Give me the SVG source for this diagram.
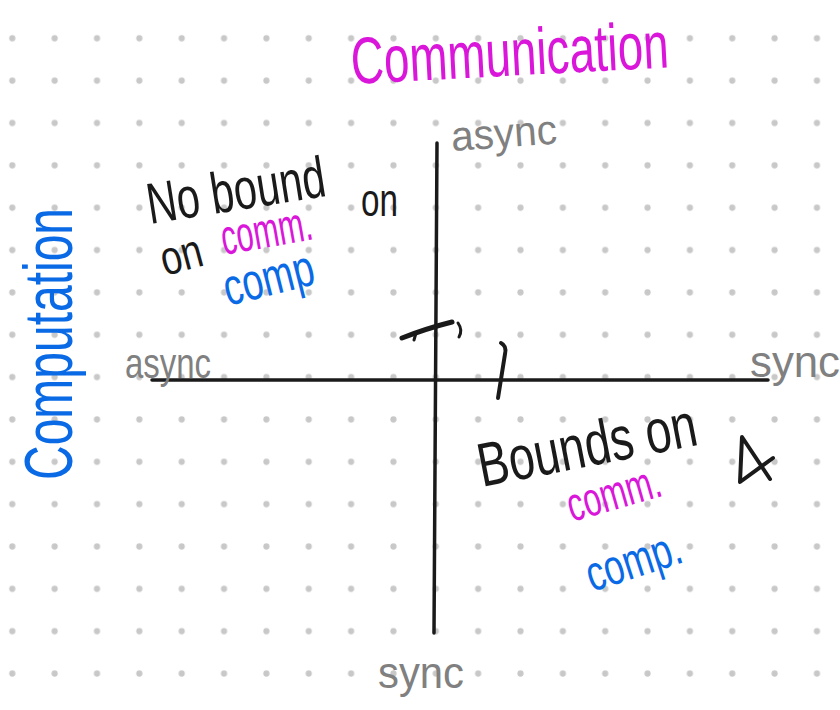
<svg xmlns="http://www.w3.org/2000/svg" width="840" height="710" viewBox="0 0 840 710">
  <defs>
    <pattern id="dots" patternUnits="userSpaceOnUse" x="-8.875" y="17.125" width="42.35" height="42.35">
      <circle cx="21.175" cy="21.175" r="3.1" fill="#c8c8c8"/>
    </pattern>
    <style>
      text { font-family: "Liberation Sans", "DejaVu Sans", sans-serif; }
      .mag { fill: #d916d9; }
      .blue { fill: #0a6ae6; }
      .gray { fill: #808080; }
      .blk { fill: #1a1a1a; }
      .axis { stroke: #1a1a1a; stroke-width: 3.5; fill: none; stroke-linecap: round; }
      .mark { stroke: #1a1a1a; fill: none; stroke-linecap: round; stroke-linejoin: round; }
    </style>
  </defs>
  <rect width="840" height="710" fill="#ffffff"/>
  <rect width="840" height="710" fill="url(#dots)"/>

  <g id="connectors">
    <line class="axis" x1="152" y1="380" x2="768" y2="380"/>
    <line class="axis" x1="437" y1="143" x2="434" y2="633"/>
  </g>

  <g id="title-communication">
    <text class="mag" x="352" y="84" font-size="66" textLength="318" lengthAdjust="spacingAndGlyphs" transform="rotate(-3 352 84)">Communication</text>
  </g>
  <g id="title-computation">
    <text class="blue" transform="translate(72 480) rotate(-90)" x="0" y="0" font-size="68" textLength="272" lengthAdjust="spacingAndGlyphs">Computation</text>
  </g>

  <g id="label-async-top">
    <text class="gray" x="452" y="151" font-size="42" textLength="106" lengthAdjust="spacingAndGlyphs" transform="rotate(-4 452 151)">async</text>
  </g>
  <g id="label-async-left">
    <text class="gray" x="125" y="378" font-size="42" textLength="86" lengthAdjust="spacingAndGlyphs">async</text>
  </g>
  <g id="label-sync-right">
    <text class="gray" x="750" y="377" font-size="44" textLength="90" lengthAdjust="spacingAndGlyphs">sync</text>
  </g>
  <g id="label-sync-bottom">
    <text class="gray" x="378" y="688" font-size="44" textLength="86" lengthAdjust="spacingAndGlyphs">sync</text>
  </g>

  <g id="note-no-bound">
    <text class="blk" x="150" y="224" font-size="58" textLength="180" lengthAdjust="spacingAndGlyphs" transform="rotate(-9 150 224)">No bound</text>
    <text class="blk" x="361" y="216" font-size="46" textLength="37" lengthAdjust="spacingAndGlyphs">on</text>
    <text class="blk" x="165" y="276" font-size="48" textLength="42" lengthAdjust="spacingAndGlyphs" transform="rotate(-15 165 276)">on</text>
    <text class="mag" x="224" y="255" font-size="50" textLength="92" lengthAdjust="spacingAndGlyphs" transform="rotate(-10 224 255)">comm.</text>
    <text class="blue" x="228" y="306" font-size="52" textLength="92" lengthAdjust="spacingAndGlyphs" transform="rotate(-14 228 306)">comp</text>
  </g>

  <g id="note-bounds">
    <text class="blk" x="482" y="487" font-size="62" textLength="222" lengthAdjust="spacingAndGlyphs" transform="rotate(-11 482 487)">Bounds on</text>
    <text class="mag" x="572" y="522" font-size="48" textLength="96" lengthAdjust="spacingAndGlyphs" transform="rotate(-16 572 522)">comm.</text>
    <text class="blue" x="592" y="592" font-size="50" textLength="98" lengthAdjust="spacingAndGlyphs" transform="rotate(-18 592 592)">comp.</text>
  </g>

  <g id="marks">
    <path class="mark" stroke-width="5" d="M402,338 C420,331 440,325 452,322"/>
    <path class="mark" stroke-width="3" d="M416,333 L414,340"/>
    <path class="mark" stroke-width="3" d="M458,323 Q463,330 459,337"/>
    <path class="mark" stroke-width="4" d="M501,343 Q507,346 505,354 L498,398"/>
    <path class="mark" stroke-width="4" d="M773,458 L740,482 L742,437 L770,479"/>
  </g>
</svg>
